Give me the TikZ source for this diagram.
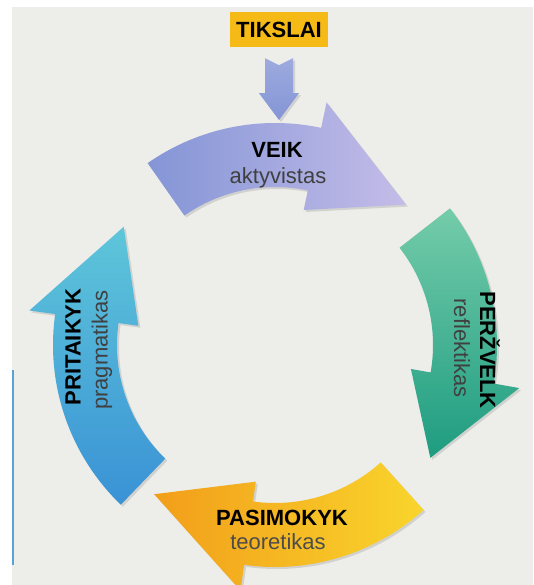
\documentclass[tikz,border=0pt]{standalone}
\usepackage{fontspec}
\setmainfont{Liberation Sans}
\usetikzlibrary{calc,shadows}
\definecolor{paper}{HTML}{EDEDEA}
\definecolor{goal}{HTML}{F6BA16}
\definecolor{veikdark}{HTML}{8495D6}
\definecolor{veiklight}{HTML}{C4BCE8}
\definecolor{perdark}{HTML}{1E9C80}
\definecolor{perlight}{HTML}{74CCAA}
\definecolor{pasdark}{HTML}{F29E1A}
\definecolor{paslight}{HTML}{F9D52C}
\definecolor{pridark}{HTML}{3A92D5}
\definecolor{prilight}{HTML}{5EC6DA}
\definecolor{edgeblue}{HTML}{5BA2D2}

\begin{document}
\begin{tikzpicture}[x=1pt,y=1pt,
    stagename/.style={font=\fontsize{22}{24}\selectfont\bfseries, text=black, inner sep=0pt},
    stagerole/.style={font=\fontsize{22}{24}\selectfont, inner sep=0pt},
    ring/.style={drop shadow={opacity=.25,shadow xshift=2pt,shadow yshift=-2pt}}]
			\useasboundingbox (0,0) rectangle (533,-585);
			\fill[paper] (12,-7) rectangle (533,-585);
			\draw[edgeblue,line width=2pt] (13,-370) -- (13,-565);
			\pgfmathsetmacro{\rin}{158}
			\pgfmathsetmacro{\rout}{222}
			\pgfmathsetmacro{\rbin}{138}
			\pgfmathsetmacro{\rbout}{248}
			\pgfmathsetmacro{\rmid}{192}
			% the four stages of the cycle
			\begin{scope}[shift={(275,-345)}]
				\foreach \tail/\head/\tip/\dark/\light/\ang in {125/78/47/veikdark/veiklight/270,
						38/-10/-36/perdark/perlight/0,
						-48/-98/-129/pasdark/paslight/270,
						-134/-188/-218/pridark/prilight/0}
				\path[ring, top color=\light, bottom color=\dark, shading angle=\ang]
					(\tail:\rout) arc[start angle=\tail, end angle=\head, radius=\rout]
					-- (\head:\rbout) -- (\tip:\rmid) -- (\head:\rbin) -- (\head:\rin)
					arc[start angle=\head, end angle=\tail, radius=\rin] -- cycle;
			\end{scope}
			\node[stagename] (veik) at (277,-150) {VEIK};
			\node[stagerole, text=black!75] (aktyvistas) at (278,-178) {aktyvistas};
			\node[stagename, rotate=-90] (perzvelk) at (490,-350) {PERŽVELK};
			\node[stagerole, rotate=-90, text=black!75] (reflektikas) at (462,-348) {reflektikas};
			\node[stagename] (pasimokyk) at (282,-518) {PASIMOKYK};
			\node[stagerole, text=black!70] (teoretikas) at (278,-542) {teoretikas};
			\node[stagename, rotate=90] (pritaikyk) at (73,-347) {PRITAIKYK};
			\node[stagerole, rotate=90, text=black!75] (pragmatikas) at (102,-350) {pragmatikas};
			% goal box feeding the cycle
			\node[stagename, fill=goal, minimum width=98, minimum height=35] (tikslai) at (279,-29.5) {TIKSLAI};
			\coordinate (veiktop) at (279,-120);
			\path (tikslai.south) ++(0,-11) coordinate (dtop);
			\path[ring, top color=veikdark!80, bottom color=veikdark]
				(dtop) ++(-14,0) -- ++(14,-7) -- ++(14,7) -- ++(0,-35) -- ++(6,0) -- (veiktop)
				-- ($(dtop)+(-20,-35)$) -- ++(6,0) -- cycle;
		\end{tikzpicture}
\end{document}
